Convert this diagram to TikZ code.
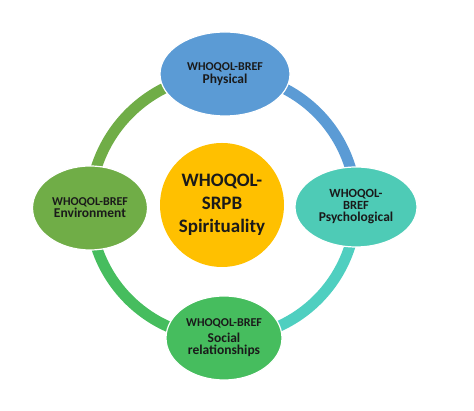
\documentclass[tikz,border=0pt]{standalone}
\usepackage{fontspec}
\setmainfont{Carlito}
\usetikzlibrary{shapes.geometric,backgrounds}
\definecolor{cblue}{HTML}{5B9BD5}
\definecolor{cteal}{HTML}{4ECBB6}
\definecolor{cteal2}{HTML}{4FCFC0}
\definecolor{cgreen}{HTML}{70AD47}
\definecolor{cgreen2}{HTML}{46BD5E}
\definecolor{cyellow}{HTML}{FFC000}
\definecolor{ctext}{HTML}{1A1A1A}
\begin{document}
\begin{tikzpicture}[x=1pt,y=1pt,
  oval/.style={ellipse,draw=white,line width=1.2pt,inner sep=0pt,
    minimum width=#1,align=center,text=ctext,font=\bfseries},
  ringarc/.style={line width=11pt,draw=#1},
]
\useasboundingbox (0,0) rectangle (474,411);
\node[oval=130pt,minimum height=84pt,fill=cblue] (phys) at (225,337)
  {{\fontsize{12}{14}\selectfont WHOQOL-BREF}\\[1pt]{\fontsize{13.5}{15}\selectfont Physical}};
\node[oval=122pt,minimum height=80pt,fill=cteal] (psy) at (356,204)
  {\fontsize{12.5}{14.5}\selectfont WHOQOL-\\\fontsize{12.5}{14.5}\selectfont BREF\\\fontsize{13.5}{16}\selectfont Psychological};
\node[oval=115pt,minimum height=84pt,fill=cgreen] (env) at (90,203)
  {{\fontsize{12}{14.5}\selectfont WHOQOL-BREF}\\{\fontsize{13.5}{16}\selectfont Environment}};
\node[oval=116pt,minimum height=84pt,fill=cgreen2] (soc) at (224,73)
  {{\fontsize{12}{14}\selectfont WHOQOL-BREF}\\[4pt]\fontsize{13.5}{16.5}\selectfont Social\\\fontsize{13.5}{16.5}\selectfont relationships};
\node[circle,fill=cyellow,minimum size=124pt,inner sep=0pt,align=center,text=ctext,
  font=\fontsize{19}{23}\selectfont\bfseries] (spir) at (222,206)
  {WHOQOL-\\SRPB\\Spirituality};
\begin{scope}[on background layer]
  \draw[ringarc=cblue] (phys.center) to[bend left=45] (psy.center);
  \draw[ringarc=cteal2] (psy.center) to[bend left=45] (soc.center);
  \draw[ringarc=cgreen2] (soc.center) to[bend left=45] (env.center);
  \draw[ringarc=cgreen] (env.center) to[bend left=45] (phys.center);
\end{scope}
\end{tikzpicture}
\end{document}
